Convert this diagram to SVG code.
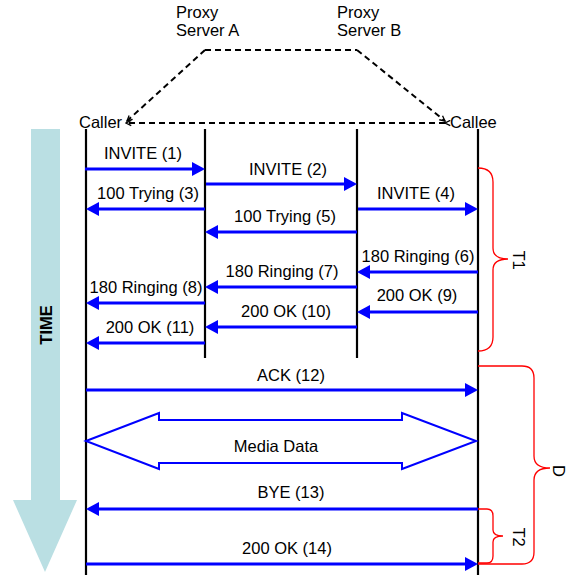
<svg xmlns="http://www.w3.org/2000/svg" width="568" height="575" viewBox="0 0 568 575">
<style>
text{font-family:"Liberation Sans",Arial,sans-serif;font-size:16.5px;fill:#000}
.c{text-anchor:middle}
.life{stroke:#000;stroke-width:2.2;fill:none}
.msg{stroke:#0000FF;stroke-width:3;fill:none;marker-end:url(#ah)}
.dash{stroke:#000;stroke-width:2;stroke-dasharray:6,4;fill:none}
.brace{stroke:#FF0000;stroke-width:1.3;fill:none}
</style>
<defs>
<marker id="ah" markerUnits="userSpaceOnUse" markerWidth="13" markerHeight="14" viewBox="0 0 13 14" refX="5" refY="7" orient="auto"><path d="M0,0 L13,7 L0,14 z" fill="#0000FF"/></marker>
<marker id="oa" markerUnits="userSpaceOnUse" markerWidth="7" markerHeight="7" viewBox="0 0 8 8" refX="7" refY="4" orient="auto"><path d="M1,1 L7,4 L1,7" fill="none" stroke="#000" stroke-width="1.5"/></marker>
</defs>

<g id="time">
<polygon points="31,129 60,129 60,500 77,500 45,572 13,500 31,500" fill="#BADFE3"/>
<text transform="translate(51.5,325) rotate(-90)" class="c" style="font-weight:bold">TIME</text>
</g>

<g id="proxyA">
<text x="176" y="18">Proxy</text>
<text x="176" y="36">Server A</text>
<line class="life" x1="205" y1="129" x2="205" y2="358"/>
</g>
<g id="proxyB">
<text x="337" y="18">Proxy</text>
<text x="337" y="36">Server B</text>
<line class="life" x1="357" y1="129" x2="357" y2="358"/>
</g>
<g id="caller">
<text x="79" y="128">Caller</text>
<line class="life" x1="86" y1="129" x2="86" y2="575"/>
</g>
<g id="callee">
<text x="450" y="128">Callee</text>
<line class="life" x1="478" y1="129" x2="478" y2="575"/>
</g>

<g id="routes">
<path class="dash" d="M205,50 L357,50"/>
<path class="dash" d="M205,50 L127,121" marker-end="url(#oa)"/>
<path class="dash" d="M357,50 L445,121" marker-end="url(#oa)"/>
<path class="dash" d="M445,123 L126,123" marker-start="url(#oa)" marker-end="url(#oa)"/>
</g>

<g id="connectors">
<line class="msg" x1="85" y1="169" x2="197" y2="169"/>
<line class="msg" x1="206" y1="184" x2="349" y2="184"/>
<line class="msg" x1="205" y1="209" x2="94" y2="209"/>
<line class="msg" x1="358" y1="209" x2="470" y2="209"/>
<line class="msg" x1="357" y1="232" x2="213" y2="232"/>
<line class="msg" x1="478" y1="272" x2="365" y2="272"/>
<line class="msg" x1="357" y1="287" x2="213" y2="287"/>
<line class="msg" x1="205" y1="303" x2="94" y2="303"/>
<line class="msg" x1="478" y1="312" x2="365" y2="312"/>
<line class="msg" x1="357" y1="327" x2="213" y2="327"/>
<line class="msg" x1="205" y1="343" x2="94" y2="343"/>
<line class="msg" x1="86" y1="390" x2="470" y2="390"/>
<line class="msg" x1="478" y1="509" x2="94" y2="509"/>
<line class="msg" x1="86" y1="564" x2="470" y2="564"/>
<polygon points="86,441 159,413 159,420 402,420 402,413 476,441 402,469 402,463 159,463 159,469" fill="#FFFFFF" stroke="#0000FF" stroke-width="2"/>
</g>

<g id="labels">
<text class="c" x="143" y="159">INVITE (1)</text>
<text class="c" x="288" y="175">INVITE (2)</text>
<text class="c" x="148" y="199">100 Trying (3)</text>
<text class="c" x="416" y="199">INVITE (4)</text>
<text class="c" x="285" y="222">100 Trying (5)</text>
<text class="c" x="418" y="262">180 Ringing (6)</text>
<text class="c" x="282" y="277">180 Ringing (7)</text>
<text class="c" x="146" y="293">180 Ringing (8)</text>
<text class="c" x="417" y="301">200 OK (9)</text>
<text class="c" x="286" y="317">200 OK (10)</text>
<text class="c" x="150" y="333">200 OK (11)</text>
<text class="c" x="291" y="381">ACK (12)</text>
<text class="c" x="276" y="452">Media Data</text>
<text class="c" x="291" y="498">BYE (13)</text>
<text class="c" x="287" y="554">200 OK (14)</text>
</g>

<g id="braces">
<path class="brace" d="M478,168 Q493,168 493,182 L493,248 Q493,259 508,259 Q493,259 493,270 L493,337 Q493,351 478,351"/>
<text transform="translate(513,260) rotate(90)" class="c">T1</text>
<path class="brace" d="M478,366 L522,366 Q534,366 534,378 L534,456 Q534,468 550,468 Q534,468 534,480 L534,552 Q534,564 522,564 L478,564"/>
<text transform="translate(553,471) rotate(90)" class="c">D</text>
<path class="brace" d="M478,509 L487,509 Q493,509 493,516 L493,530 Q493,536 503,536 Q493,536 493,542 L493,556 Q493,563 487,563 L478,563"/>
<text transform="translate(513,537) rotate(90)" class="c">T2</text>
</g>
</svg>
